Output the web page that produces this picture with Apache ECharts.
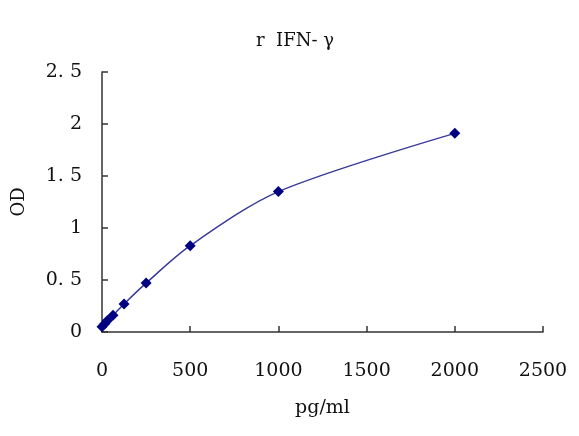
<!DOCTYPE html>
<html>
<head>
<meta charset="utf-8">
<script src="https://cdn.jsdelivr.net/npm/echarts@6/dist/echarts.min.js"></script>
<style>html,body{margin:0;padding:0;background:#fff}#c{width:579px;height:436px}</style>
</head>
<body>
<div id="c"></div>
<script>
var titleText = "r\u00a0\u00a0IFN-\u00a0\u03b3";
var xName = "pg/ml";
var yName = "OD";
var concentration = [0, 15.6, 31.25, 62.5, 125, 250, 500, 1000, 2000];
var od = [0.05, 0.08, 0.11, 0.16, 0.27, 0.47, 0.83, 1.35, 1.91];
var xTicks = [0, 500, 1000, 1500, 2000, 2500];
var yTicks = [0, 0.5, 1, 1.5, 2, 2.5];

var font = "'DejaVu Serif','Liberation Serif',serif";
var pts = concentration.map(function (c, i) { return [c, od[i]]; });
var chart = echarts.init(document.getElementById('c'));
chart.setOption({
  backgroundColor: '#fff',
  animation: false,
  title: {
    text: titleText, left: 290, top: 27, textAlign: 'center',
    textStyle: { fontFamily: font, fontSize: 18, fontWeight: 'normal', color: '#111' }
  },
  grid: { left: 102, right: 36, top: 72, bottom: 104 },
  xAxis: {
    type: 'value', min: xTicks[0], max: xTicks[xTicks.length - 1], interval: 500,
    name: xName, nameLocation: 'middle', nameGap: 67,
    nameTextStyle: { fontFamily: font, fontSize: 19, color: '#111' },
    axisLine: { lineStyle: { color: '#333', width: 1.5 } },
    axisTick: { inside: true, length: 6, lineStyle: { color: '#333', width: 1.5 } },
    axisLabel: {
      margin: 30, fontFamily: font, fontSize: 19, color: '#111',
      formatter: function (v) { return String(v); }
    },
    splitLine: { show: false }
  },
  yAxis: {
    type: 'value', min: yTicks[0], max: yTicks[yTicks.length - 1], interval: 0.5,
    name: yName, nameLocation: 'middle', nameGap: 74, nameRotate: 90,
    nameTextStyle: { fontFamily: font, fontSize: 18, color: '#111' },
    axisLine: { show: true, lineStyle: { color: '#333', width: 1.5 } },
    axisTick: { show: true, inside: true, length: 6, lineStyle: { color: '#333', width: 1.5 } },
    axisLabel: {
      margin: 20, fontFamily: font, fontSize: 19, color: '#111',
      formatter: function (v) { return String(v).replace('.', '.\u00a0'); }
    },
    splitLine: { show: false }
  },
  series: [{
    type: 'line', data: pts, smooth: 0.3,
    symbol: 'diamond', symbolSize: 11,
    lineStyle: { color: '#3a3a9a', width: 1.5 },
    itemStyle: { color: '#000080' }
  }]
});
</script>
</body>
</html>
